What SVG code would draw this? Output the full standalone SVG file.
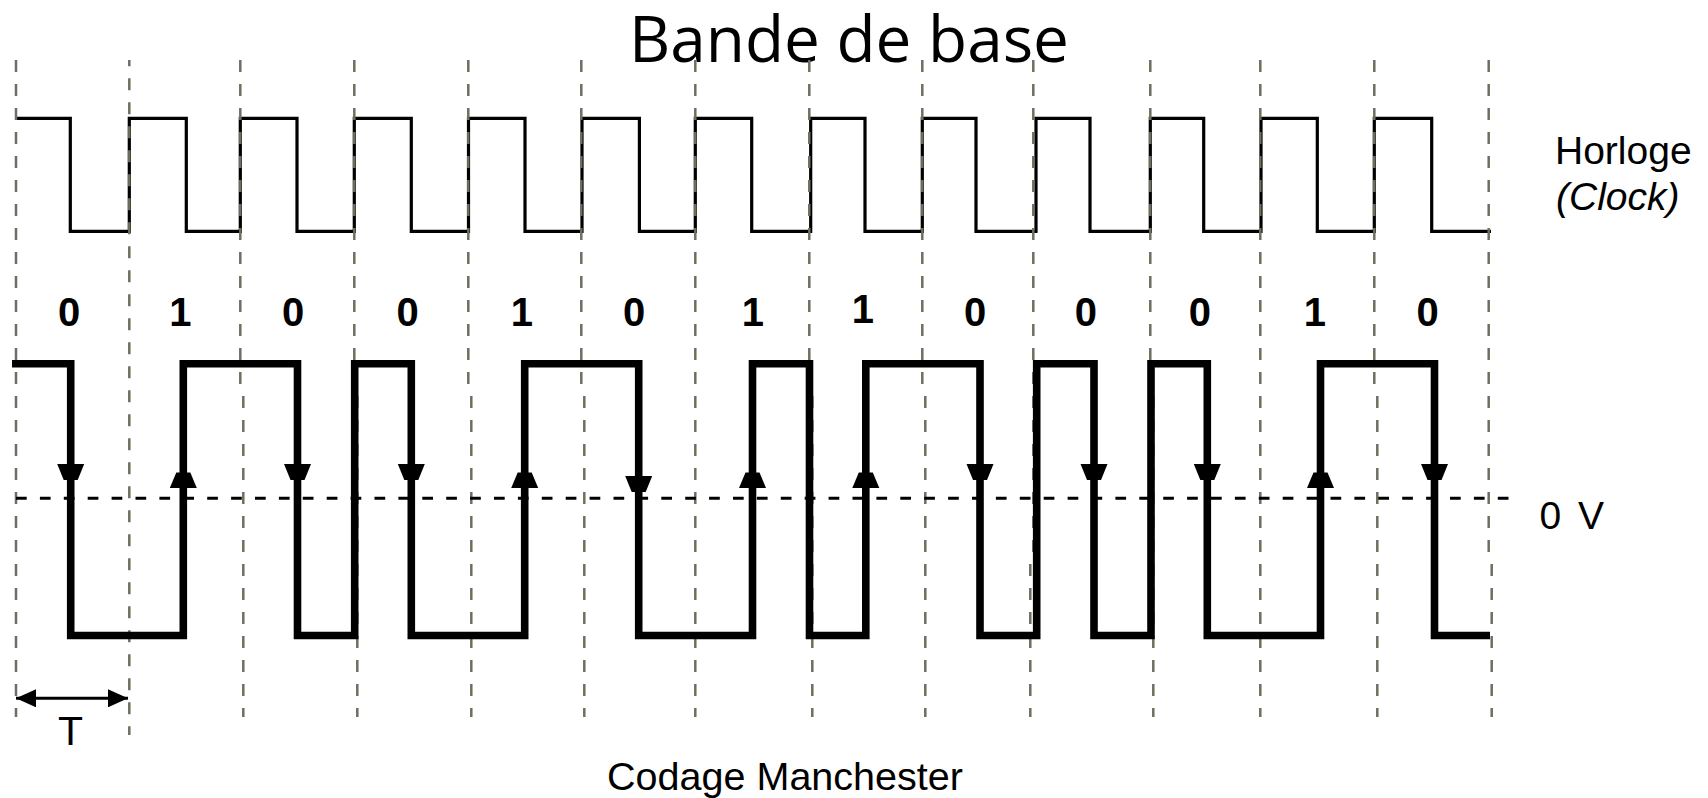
<svg xmlns="http://www.w3.org/2000/svg" width="1708" height="798" viewBox="0 0 1708 798">
<style>
.grid{fill:none;stroke:#706e5e;stroke-width:2.5;stroke-dasharray:12 12}
.clk{fill:none;stroke:#000;stroke-width:3.2;stroke-linejoin:miter}
.man{fill:none;stroke:#000;stroke-width:7.6;stroke-linejoin:miter;stroke-linecap:butt}
.zero{fill:none;stroke:#000;stroke-width:3;stroke-dasharray:10.7 13.2}
.bit{font-family:"Liberation Sans",Arial,sans-serif;font-weight:bold;font-size:40px;fill:#000;text-anchor:middle}
.lbl{font-family:"Liberation Sans",Arial,sans-serif;font-size:39px;fill:#000}
.arr{fill:#000}
</style>
<defs>
<path id="dn" d="M-13.5,0 H13.5 L7,16 H-7 Z"/>
<path id="up" d="M-7,0 H7 L13.5,15.5 H-13.5 Z"/>
<marker id="ah" viewBox="0 0 20 18" refX="20" refY="9" markerWidth="20" markerHeight="18" markerUnits="userSpaceOnUse" orient="auto-start-reverse">
<path d="M0,0 L20,9 L0,18 Z" fill="#000"/>
</marker>
</defs>
<rect width="1708" height="798" fill="#fff"/>

<g id="title">
<text x="629" y="61.5" font-family="'Open Sans','Liberation Sans',sans-serif" font-size="64" textLength="440" lengthAdjust="spacingAndGlyphs">Bande de base</text>
</g>

<g id="clock">
<path class="clk" d="M15,118.3 H70.3 V231.3 H129.3 V118.3 H186.3 V231.3 H240.3 V118.3 H297 V231.3 H354.3 V118.3 H411.3 V231.3 H468.5 V118.3 H525 V231.3 H582 V118.3 H639.4 V231.3 H695.3 V118.3 H751.7 V231.3 H810.7 V118.3 H865 V231.3 H922.3 V118.3 H976 V231.3 H1036 V118.3 H1090 V231.3 H1150.3 V118.3 H1203.7 V231.3 H1261 V118.3 H1317.3 V231.3 H1374.3 V118.3 H1431.7 V231.3 H1491"/>
</g>

<g id="grid">
<path class="grid" d="M16,60 V717"/>
<path class="grid" d="M129.3,60 V735" stroke-dashoffset="5.7"/>
<path class="grid" d="M240.3,60 V396 M243.3,396 V717"/>
<path class="grid" d="M354.3,60 V396 M357.3,396 V717"/>
<path class="grid" d="M468.3,60 V396 M471.3,396 V717"/>
<path class="grid" d="M581.3,60 V396 M584.3,396 V717"/>
<path class="grid" d="M695.3,60 V717"/>
<path class="grid" d="M809.3,60 V396 M812.3,396 V717"/>
<path class="grid" d="M922.3,60 V396 M925.3,396 V717"/>
<path class="grid" d="M1033.3,60 V564 M1030.3,564 V717"/>
<path class="grid" d="M1150.3,60 V396 M1153.3,396 V717"/>
<path class="grid" d="M1260.3,60 V717"/>
<path class="grid" d="M1374.3,60 V396 M1377.3,396 V717"/>
<path class="grid" d="M1488.7,60 V564 M1491.7,564 V717"/>
</g>

<g id="bits">
<text class="bit" x="69.2" y="326">0</text>
<text class="bit" x="180.4" y="326">1</text>
<text class="bit" x="293.2" y="326">0</text>
<text class="bit" x="407.5" y="326">0</text>
<text class="bit" x="521.9" y="326">1</text>
<text class="bit" x="634.2" y="326">0</text>
<text class="bit" x="752.9" y="326">1</text>
<text class="bit" x="862.9" y="323">1</text>
<text class="bit" x="975.2" y="326">0</text>
<text class="bit" x="1085.8" y="326">0</text>
<text class="bit" x="1199.8" y="326">0</text>
<text class="bit" x="1314.9" y="326">1</text>
<text class="bit" x="1427.5" y="326">0</text>
</g>

<g id="zero-line">
<path class="zero" d="M16,498.3 H1512"/>
</g>

<g id="manchester">
<path class="man" d="M12,363.7 H70.7 V635.5 H183.3 V363.7 H297.5 V635.5 H354.7 V363.7 H411.3 V635.5 H524.7 V363.7 H638.7 V635.5 H752.5 V363.7 H809.5 V635.5 H865.8 V363.7 H980 V635.5 H1036.7 V363.7 H1094 V635.5 H1151 V363.7 H1207.3 V635.5 H1320.5 V363.7 H1434.5 V635.5 H1490"/>
</g>

<g id="edge-arrows" class="arr">
<use href="#dn" x="70.7" y="464"/>
<use href="#up" x="183.3" y="472.5"/>
<use href="#dn" x="297.5" y="464"/>
<use href="#dn" x="411.3" y="464"/>
<use href="#up" x="524.7" y="472.5"/>
<use href="#dn" x="638.7" y="476"/>
<use href="#up" x="752.5" y="472.5"/>
<use href="#up" x="865.8" y="472.5"/>
<use href="#dn" x="980" y="464"/>
<use href="#dn" x="1094" y="464"/>
<use href="#dn" x="1207.3" y="464"/>
<use href="#up" x="1320.5" y="472.5"/>
<use href="#dn" x="1434.5" y="464"/>
</g>

<g id="period">
<path d="M16,698.3 H128" stroke="#000" stroke-width="3" fill="none" marker-start="url(#ah)" marker-end="url(#ah)"/>
<text x="70.5" y="745" font-family="'Liberation Sans',Arial,sans-serif" font-size="41" text-anchor="middle">T</text>
</g>

<g id="labels">
<text class="lbl" x="1555" y="164">Horloge</text>
<text class="lbl" x="1556" y="210" font-size="38" font-style="italic">(Clock)</text>
<text class="lbl" x="1539.5" y="529.3" font-size="40" letter-spacing="3">0 V</text>
<text class="lbl" x="607" y="790" font-size="40" textLength="356" lengthAdjust="spacingAndGlyphs">Codage Manchester</text>
</g>
</svg>
